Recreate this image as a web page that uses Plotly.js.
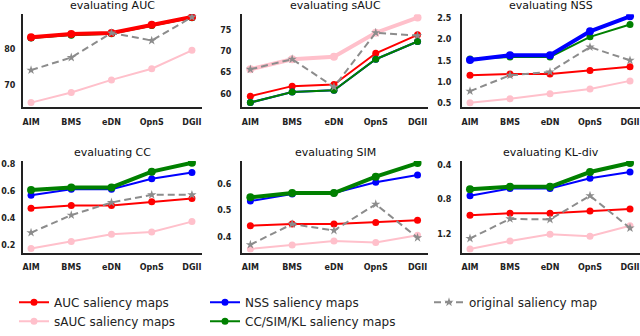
<!DOCTYPE html>
<html>
<head>
<meta charset="utf-8">
<script src="https://cdn.plot.ly/plotly-3.0.1.min.js"></script>
<style>
  html, body { margin: 0; padding: 0; background: #fff; }
  #chart { width: 640px; height: 336px; }
</style>
</head>
<body>
<div id="chart"></div>
<script>
/*
 * ~~~~~~~~~~~~~~~~~~~~~~~~~~~~~~~~~~~~~~~~~~~~~~~~
 * Data
 * ~~~~~~~~~~~~~~~~~~~~~~~~~~~~~~~~~~~~~~~~~~~~~~~~
 */

const categories = ['AIM', 'BMS', 'eDN', 'OpnS', 'DGII'];
const metrics = ['AUC', 'sAUC', 'NSS', 'CC', 'SIM', 'KL-div'];

// evaluating AUC
const auc_AUC  = [83.3, 84.2, 84.5, 86.8, 88.9];
const auc_sAUC = [65.2, 68.0, 71.5, 74.6, 79.7];
const auc_NSS  = [83.2, 84.0, 84.4, 86.7, 88.8];
const auc_CC   = [83.1, 83.9, 84.3, 86.6, 88.7];
const auc_orig = [74.2, 77.7, 84.5, 82.4, 88.9];

// evaluating sAUC
const sauc_AUC  = [59.4, 61.8, 62.2, 69.6, 74.0];
const sauc_sAUC = [65.8, 68.2, 68.8, 74.5, 78.1];
const sauc_NSS  = [57.9, 60.4, 60.8, 68.2, 72.4];
const sauc_CC   = [57.9, 60.4, 60.8, 68.2, 72.4];
const sauc_orig = [65.8, 68.2, 61.6, 74.5, 73.8];

// evaluating NSS
const nss_AUC  = [1.16, 1.19, 1.19, 1.27, 1.36];
const nss_sAUC = [0.52, 0.61, 0.73, 0.84, 1.03];
const nss_NSS  = [1.52, 1.63, 1.63, 2.19, 2.54];
const nss_CC   = [1.54, 1.59, 1.59, 2.06, 2.35];
const nss_orig = [0.79, 1.16, 1.24, 1.82, 1.51];

// evaluating CC
const cc_AUC  = [0.477, 0.496, 0.496, 0.524, 0.548];
const cc_sAUC = [0.177, 0.229, 0.283, 0.300, 0.377];
const cc_NSS  = [0.572, 0.617, 0.617, 0.695, 0.742];
const cc_CC   = [0.612, 0.631, 0.631, 0.748, 0.814];
const cc_orig = [0.295, 0.425, 0.519, 0.576, 0.576];

// evaluating SIM
const sim_AUC  = [0.444, 0.450, 0.450, 0.456, 0.464];
const sim_sAUC = [0.357, 0.372, 0.387, 0.381, 0.408];
const sim_NSS  = [0.536, 0.562, 0.566, 0.606, 0.633];
const sim_CC   = [0.550, 0.566, 0.566, 0.627, 0.678];
const sim_orig = [0.373, 0.450, 0.426, 0.524, 0.399];

// evaluating KL-div (axis is flipped)
const kl_AUC  = [0.987, 0.962, 0.962, 0.936, 0.914];
const kl_sAUC = [1.376, 1.284, 1.207, 1.229, 1.108];
const kl_NSS  = [0.760, 0.675, 0.675, 0.557, 0.485];
const kl_CC   = [0.686, 0.657, 0.657, 0.485, 0.381];
const kl_orig = [1.255, 1.028, 1.035, 0.760, 1.134];

// y tick values per panel
const aucTicks  = [70, 80];
const saucTicks = [60, 65, 70, 75];
const nssTicks  = [0.5, 1.0, 1.5, 2.0, 2.5];
const ccTicks   = [0.2, 0.4, 0.6, 0.8];
const simTicks  = [0.4, 0.5, 0.6];
const klTicks   = [0.4, 0.8, 1.2];

/*
 * ~~~~~~~~~~~~~~~~~~~~~~~~~~~~~~~~~~~~~~~~~~~~~~~~
 * Series styling
 * ~~~~~~~~~~~~~~~~~~~~~~~~~~~~~~~~~~~~~~~~~~~~~~~~
 */

const series = {
  AUC:  {name: 'AUC saliency maps', color: '#ff0000', legend: 'legend', rank: 1},
  sAUC: {name: 'sAUC saliency maps', color: '#ffc0cb', legend: 'legend', rank: 2},
  NSS:  {name: 'NSS saliency maps', color: '#0000ff', legend: 'legend2', rank: 1},
  CC:   {name: 'CC/SIM/KL saliency maps', color: '#008000', legend: 'legend2', rank: 2},
  orig: {name: 'original saliency map', color: '#8c8c8c', legend: 'legend3', rank: 1},
};

const panels = [
  {values: {AUC: auc_AUC, sAUC: auc_sAUC, NSS: auc_NSS, CC: auc_CC, orig: auc_orig},
   main: 'AUC', ticks: aucTicks, range: [64, 89.7], fmt: 'd'},
  {values: {AUC: sauc_AUC, sAUC: sauc_sAUC, NSS: sauc_NSS, CC: sauc_CC, orig: sauc_orig},
   main: 'sAUC', ticks: saucTicks, range: [56.85, 78.9], fmt: 'd'},
  {values: {AUC: nss_AUC, sAUC: nss_sAUC, NSS: nss_NSS, CC: nss_CC, orig: nss_orig},
   main: 'NSS', ticks: nssTicks, range: [0.42, 2.59], fmt: '.1f'},
  {values: {AUC: cc_AUC, sAUC: cc_sAUC, NSS: cc_NSS, CC: cc_CC, orig: cc_orig},
   main: 'CC', ticks: ccTicks, range: [0.146, 0.828], fmt: '.1f'},
  {values: {AUC: sim_AUC, sAUC: sim_sAUC, NSS: sim_NSS, CC: sim_CC, orig: sim_orig},
   main: 'CC', ticks: simTicks, range: [0.343, 0.686], fmt: '.1f'},
  {values: {AUC: kl_AUC, sAUC: kl_sAUC, NSS: kl_NSS, CC: kl_CC, orig: kl_orig},
   main: 'CC', ticks: klTicks, range: [1.42, 0.356], fmt: '.1f'},
];

// pixel boxes of the six plot areas
const colsPx = [[23, 202], [242, 428], [462, 640]];
const rowsPx = [[15, 113], [170, 267]];

const W = 640, H = 336;

/*
 * ~~~~~~~~~~~~~~~~~~~~~~~~~~~~~~~~~~~~~~~~~~~~~~~~
 * Traces
 * ~~~~~~~~~~~~~~~~~~~~~~~~~~~~~~~~~~~~~~~~~~~~~~~~
 */

// legend entries are taken from a panel where the line is thin
const legendPanel = {AUC: 1, sAUC: 0, NSS: 0, CC: 0, orig: 0};

const makeTrace = (panel, p, key) => {
  const s = series[key];
  const thick = panel.main === key;
  const isOrig = key === 'orig';
  const suffix = p === 0 ? '' : String(p + 1);
  return {
    type: 'scatter',
    mode: 'lines+markers',
    x: categories,
    y: panel.values[key],
    xaxis: 'x' + suffix,
    yaxis: 'y' + suffix,
    name: s.name,
    legend: s.legend,
    legendrank: s.rank,
    showlegend: legendPanel[key] === p,
    line: {
      color: s.color,
      width: thick ? 4 : 2,
      dash: isOrig ? '7px,4px' : 'solid',
    },
    marker: {
      color: s.color,
      symbol: isOrig ? 'star' : 'circle',
      size: isOrig ? 7 : (thick ? 8 : 7),
    },
    hoverinfo: 'skip',
  };
};

const getTraces = () => {
  const traces = [];
  panels.forEach((panel, p) => {
    const order = ['AUC', 'sAUC', 'NSS', 'CC'].filter(k => k !== panel.main);
    order.push(panel.main, 'orig');
    order.forEach(key => traces.push(makeTrace(panel, p, key)));
  });
  return traces;
};

/*
 * ~~~~~~~~~~~~~~~~~~~~~~~~~~~~~~~~~~~~~~~~~~~~~~~~
 * Layout
 * ~~~~~~~~~~~~~~~~~~~~~~~~~~~~~~~~~~~~~~~~~~~~~~~~
 */

const tickFont = {family: 'DejaVu Sans', size: 8, color: '#222', weight: 'bold'};

const getLayout = () => {
  const layout = {
    width: W,
    height: H,
    margin: {l: 0, r: 0, t: 0, b: 0},
    paper_bgcolor: '#fff',
    plot_bgcolor: '#fff',
    font: {family: 'DejaVu Sans', color: '#222'},
    annotations: [],
  };

  panels.forEach((panel, p) => {
    const col = colsPx[p % 3];
    const row = rowsPx[Math.floor(p / 3)];
    const suffix = p === 0 ? '' : String(p + 1);

    layout['xaxis' + suffix] = {
      type: 'category',
      domain: [col[0] / W, col[1] / W],
      anchor: 'y' + suffix,
      range: [-0.2, 4.25],
      showline: true,
      linecolor: '#222',
      linewidth: 2,
      showgrid: false,
      zeroline: false,
      ticks: '',
      ticklabelstandoff: 6,
      tickfont: tickFont,
    };
    layout['yaxis' + suffix] = {
      domain: [1 - row[1] / H, 1 - row[0] / H],
      anchor: 'x' + suffix,
      range: panel.range,
      autorange: false,
      tickmode: 'array',
      tickvals: panel.ticks,
      tickformat: panel.fmt,
      showline: true,
      linecolor: '#222',
      linewidth: 2,
      showgrid: false,
      zeroline: false,
      ticks: '',
      ticklabelstandoff: p % 3 === 0 ? 4 : 7,
      tickfont: tickFont,
    };
    layout.annotations.push({
      text: 'evaluating ' + metrics[p],
      xref: 'paper',
      yref: 'paper',
      x: (col[0] + col[1]) / 2 / W,
      y: 1 - (row[0] - 9) / H,
      xanchor: 'center',
      yanchor: 'middle',
      showarrow: false,
      font: {family: 'DejaVu Sans', size: 11, color: '#111'},
    });
  });

  const legendBase = {
    orientation: 'v',
    yanchor: 'top',
    xanchor: 'left',
    y: 1 - 304 / H,
    bgcolor: 'rgba(0,0,0,0)',
    font: {family: 'DejaVu Sans', size: 12, color: '#222'},
    traceorder: 'normal',
    tracegroupgap: 0,
    itemwidth: 30,
  };
  layout.legend = {...legendBase, x: 14 / W};
  layout.legend2 = {...legendBase, x: 205 / W};
  layout.legend3 = {...legendBase, x: 429 / W};

  return layout;
};

Plotly.newPlot('chart', getTraces(), getLayout(), {staticPlot: true, displayModeBar: false});
</script>
</body>
</html>
